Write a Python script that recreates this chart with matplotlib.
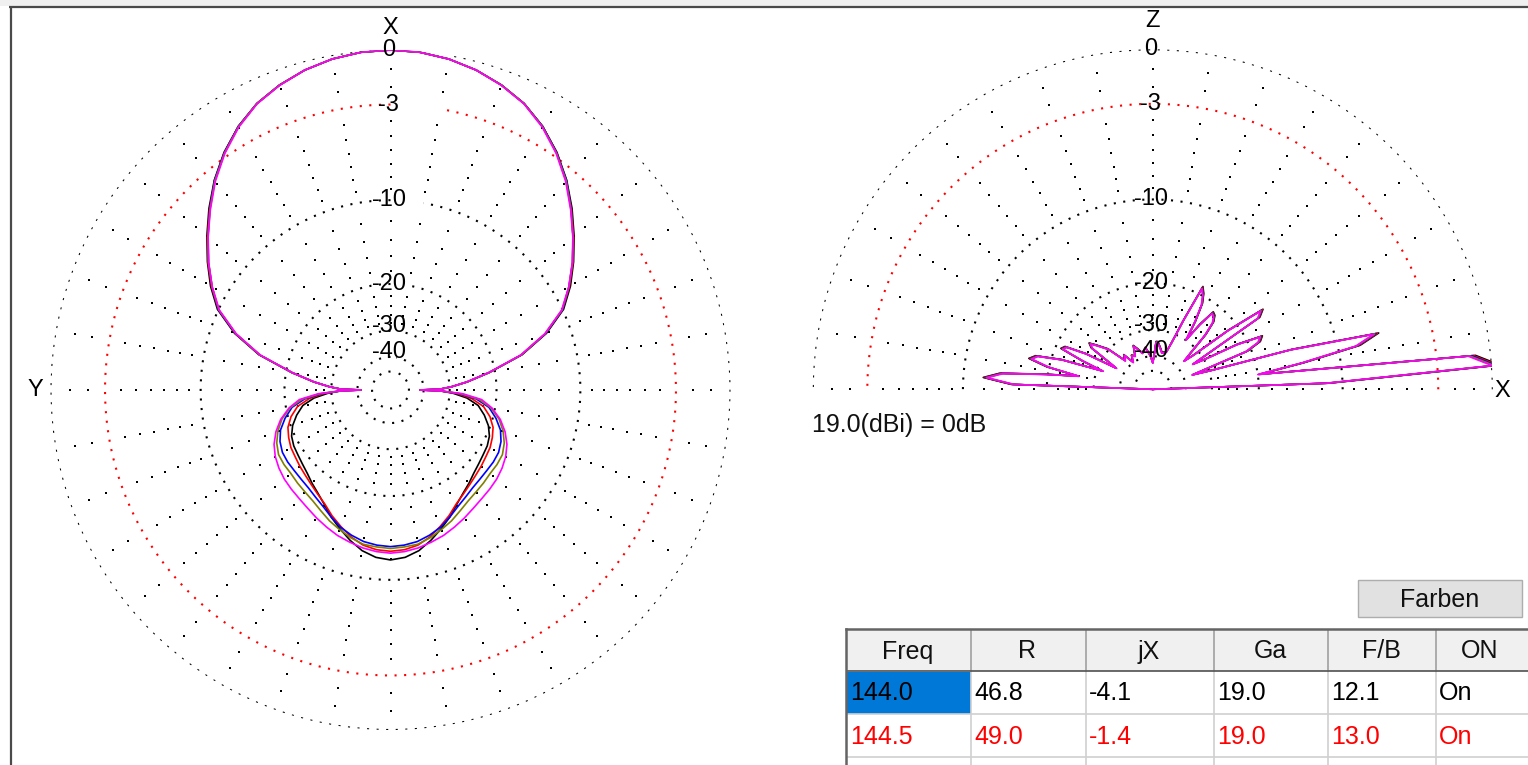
import numpy as np
import matplotlib
matplotlib.use("Agg")
import matplotlib.pyplot as plt
from matplotlib.patches import Rectangle

# ---------------- data ----------------
freqs = ['144.0', '144.5', '145.0', '145.5', '146.0']
colors = ['#000000', '#ff0000', '#0000ff', '#808000', '#ff00ff']

# azimuth pattern, front half (deg from X axis) -> dB
az_front_angles = [0, 5, 10, 15, 20, 25, 30, 35, 40, 45, 50, 55, 60, 65, 70, 75, 80, 84, 87, 89, 90]
az_front_db = {
    '144.0': [0, -0.05, -0.2, -0.45, -0.8, -1.25, -1.9, -2.72, -3.7, -4.82, -6.0, -7.2, -8.45, -9.9, -12.3, -15.7, -21.0, -25.5, -29.5, -33.0, -42.0],
    '144.5': [0, -0.05, -0.2, -0.45, -0.8, -1.25, -1.9, -2.75, -3.75, -4.88, -6.05, -7.25, -8.55, -10.0, -12.4, -15.8, -21.0, -25.5, -29.5, -33.0, -42.0],
    '145.0': [0, -0.05, -0.2, -0.45, -0.8, -1.25, -1.9, -2.75, -3.72, -4.9, -6.1, -7.3, -8.6, -10.0, -12.4, -15.8, -21.0, -25.5, -29.5, -33.0, -42.0],
    '145.5': [0, -0.05, -0.2, -0.45, -0.8, -1.25, -1.92, -2.77, -3.75, -4.92, -6.1, -7.3, -8.6, -10.05, -12.45, -15.8, -21.0, -25.5, -29.5, -33.0, -42.0],
    '146.0': [0, -0.05, -0.2, -0.45, -0.82, -1.27, -1.95, -2.8, -3.8, -4.95, -6.12, -7.32, -8.62, -10.1, -12.5, -15.9, -21.1, -25.6, -29.5, -33.0, -42.0],
}
# azimuth pattern, back half (deg off the rear direction) -> dB
az_back_angles = [0, 5, 10, 15, 20, 25, 30, 35, 40, 45, 50, 55, 60, 65, 70, 75, 80, 84, 87, 89]
az_back_db = {
    '144.0': [-11.9, -12.1, -12.6, -13.4, -14.3, -15.2, -16.2, -17.0, -17.6, -18.2, -18.6, -18.9, -19.1, -19.5, -20.3, -21.5, -23.0, -25.5, -29.0, -33.0],
    '144.5': [-12.8, -12.9, -13.2, -13.8, -14.6, -15.4, -16.3, -16.9, -17.4, -17.8, -18.1, -18.4, -18.6, -19.0, -19.5, -20.5, -22.0, -24.5, -28.0, -33.0],
    '145.0': [-13.3, -13.4, -13.6, -14.0, -14.5, -15.2, -15.9, -16.4, -16.8, -17.0, -17.1, -17.1, -17.2, -17.6, -18.3, -19.5, -21.0, -23.5, -27.5, -33.0],
    '145.5': [-13.1, -13.2, -13.3, -13.7, -14.2, -14.7, -15.3, -15.8, -16.1, -16.3, -16.5, -16.5, -16.6, -17.1, -17.9, -19.0, -20.7, -23.0, -27.0, -33.0],
    '146.0': [-12.6, -12.7, -12.9, -13.2, -13.5, -13.9, -14.3, -14.7, -15.0, -15.2, -15.4, -15.7, -16.1, -16.7, -17.6, -18.8, -20.5, -22.5, -26.5, -33.0],
}

# elevation pattern (deg above horizon, 0 = +X, 90 = Z) -> dB
el_angles = [0, 2, 4, 6, 8, 10, 12, 14, 16, 18, 20, 22, 24, 26, 28, 30, 32, 34, 36, 38,
             40, 42, 44, 46, 48, 50, 52, 54, 56, 58, 60, 62, 64, 66, 68, 70, 76, 80, 84,
             86, 88, 90, 94, 100, 106, 110, 114, 118, 122, 126, 130, 134, 138, 142, 144,
             146, 148, 150, 152, 154, 156, 158, 160, 162, 164, 166, 168, 170, 172, 174,
             176, 178, 180]
el_db = [-200, -11.6, 0.0, -1.2, -20.0, -14.0, -8.5, -6.9, -15.0, -30.0,
         -36.0, -21.0, -18.6, -18.0, -22.0, -30.0, -34.0, -17.0, -16.1, -22.0,
         -32.0, -36.0, -32.0, -26.0, -23.0, -22.0, -21.7, -25.0, -30.0, -25.0,
         -21.5, -20.0, -19.1, -26.0, -33.0, -37.0, -38.0, -36.0, -34.0,
         -34.0, -40.0, -44.0, -40.0, -36.0, -38.0, -36.0, -34.0, -38.0, -37.0,
         -40.0, -35.0, -37.0, -30.0, -27.0, -25.5,
         -26.5, -32.0, -36.0, -26.0, -21.8, -21.3, -26.0, -32.0, -22.0, -18.0,
         -17.2, -20.0, -26.0, -20.0, -14.0,
         -12.3, -15.4, -200]
el_offset = {'144.0': 0.4, '144.5': 0.3, '145.0': 0.2, '145.5': 0.1, '146.0': 0.0}

ring_db = [0, -3, -10, -20, -30, -40, -50]
ring_labels = ['0', '-3', '-10', '-20', '-30', '-40']
dot_db = [-1, -2, -4, -5, -6, -7, -8, -9, -12, -14, -16, -18, -22, -24, -26, -28]

gain_text = '19.0(dBi) = 0dB'
table_header = ['Freq', 'R', 'jX', 'Ga', 'F/B', 'ON']
table_rows = [
    ['144.0', '46.8', '-4.1', '19.0', '12.1', 'On'],
    ['144.5', '49.0', '-1.4', '19.0', '13.0', 'On'],
]
table_row_colors = ['#000000', '#ff0000']
button_text = 'Farben'

# ---------------- setup ----------------
W, H = 1528, 765
fig = plt.figure(figsize=(W / 100, H / 100), dpi=100)
fig.patch.set_facecolor('white')
SANS = 'Liberation Sans'
DB_MIN = -200.0


def db_to_r(d):
    return np.power(0.89, -np.asarray(d, dtype=float) / 2.0)


def r_to_db(r):
    r = np.maximum(np.asarray(r, dtype=float), 1e-300)
    return -2.0 * np.log(r) / np.log(0.89)


# overlay axes in pixel coords (window frame, table)
ov = fig.add_axes([0, 0, 1, 1])
ov.set_xlim(0, W)
ov.set_ylim(H, 0)
ov.axis('off')
ov.add_patch(Rectangle((0, 0), W, 6, facecolor='#f0f0f0', edgecolor='none'))
ov.plot([9, W], [7, 7], color='#4a4a4a', lw=1.6, solid_capstyle='butt')
ov.plot([10.5, 10.5], [7, H], color='#4a4a4a', lw=1.6, solid_capstyle='butt')

# button
ov.add_patch(Rectangle((1358, 580), 164, 37, facecolor='#e1e1e1', edgecolor='#adadad', lw=1))
ov.text(1440, 600, button_text, ha='center', va='center', fontsize=18, family=SANS, color='#111111')

# table
col_x = [847, 971, 1086, 1214, 1328, 1436, 1530]
row_y = [630, 671, 714, 757, 800]
ov.add_patch(Rectangle((col_x[0], row_y[0]), W - col_x[0], row_y[1] - row_y[0],
                       facecolor='#f0f0f0', edgecolor='none'))
ov.add_patch(Rectangle((col_x[0], row_y[1] + 1), col_x[1] - col_x[0], row_y[2] - row_y[1] - 1,
                       facecolor='#0078d7', edgecolor='none'))
for xx in col_x[1:-1]:
    ov.plot([xx, xx], [row_y[0], row_y[1]], color='#a0a0a0', lw=1.2)
    ov.plot([xx, xx], [row_y[1], H], color='#d0d0d0', lw=1.2)
for yy in row_y[2:4]:
    ov.plot([col_x[0], W], [yy, yy], color='#d0d0d0', lw=1.2)
ov.plot([col_x[0], W], [row_y[1], row_y[1]], color='#505050', lw=1.2)
ov.plot([col_x[0] - 1, W], [row_y[0] - 1, row_y[0] - 1], color='#646464', lw=1.8)
ov.plot([col_x[0] - 1, col_x[0] - 1], [row_y[0] - 1, H], color='#646464', lw=1.8)
for j, h in enumerate(table_header):
    ov.text((col_x[j] + col_x[j + 1] - (2 if j < 5 else 6)) / 2, (row_y[0] + row_y[1]) / 2 + 1, h,
            ha='center', va='center', fontsize=18, family=SANS, color='#111111')
for i, row in enumerate(table_rows):
    for j, val in enumerate(row):
        ov.text(col_x[j] + 3, (row_y[i + 1] + row_y[i + 2]) / 2 + 1, val, ha='left', va='center',
                fontsize=18, family=SANS, color=table_row_colors[i])


def make_polar(cx, cy, zero, R=340):
    ax = fig.add_axes([(cx - R) / W, (H - cy - R) / H, 2 * R / W, 2 * R / H], projection='polar')
    ax.set_theta_zero_location(zero)
    ax.set_theta_direction(1)
    ax.set_rscale('function', functions=(db_to_r, r_to_db))
    ax.axis('off')
    return ax


def draw_grid(ax, tmin, tmax, label_theta):
    th = np.linspace(np.deg2rad(tmin), np.deg2rad(tmax), 1441)
    for d in ring_db:
        col = '#ff0000' if d == -3 else '#000000'
        ax.plot(th, np.full_like(th, d), color=col, lw=1.5, ls=(0, (1, 3.6)), dash_capstyle='butt')
    spokes = np.deg2rad(np.arange(tmin, tmax + 1, 10))
    for s in spokes:
        ax.scatter(np.full(len(dot_db), s), dot_db, s=3.0, marker='s', color='#000000', linewidths=0)
    for d, lab in zip(ring_db, ring_labels):
        off = {'-30': 5, '-40': 5}.get(lab, 0)
        ax.annotate(lab, xy=(np.deg2rad(label_theta), d), xytext=(-2, off), textcoords='offset pixels',
                    ha='center', va='center', fontsize=17, family=SANS, color='#000000')


# -------- azimuth plot --------
axA = make_polar(390.5, 390, 'N')
draw_grid(axA, 0, 350, 0)
for f, c in zip(freqs, colors):
    half_t = list(az_front_angles) + [180 - p for p in az_back_angles[::-1]]
    half_d = list(az_front_db[f]) + list(az_back_db[f][::-1])
    full_t = half_t + [360 - t for t in half_t[-2::-1]]
    full_d = half_d + half_d[-2::-1]
    axA.plot(np.deg2rad(full_t), full_d, color=c, lw=1.2)
axA.set_rlim(DB_MIN, 0)
axA.annotate('X', xy=(0, 0), xytext=(0, 22), textcoords='offset pixels', ha='center', va='center',
             fontsize=17, family=SANS)
axA.annotate('Y', xy=(np.pi / 2, 0), xytext=(-15, 0), textcoords='offset pixels', ha='center',
             va='center', fontsize=17, family=SANS)

# -------- elevation plot --------
axE = make_polar(1152.8, 389.3, 'E')
draw_grid(axE, 0, 180, 90)
for f, c in zip(freqs, colors):
    d = [v + el_offset[f] if v > DB_MIN else v for v in el_db]
    axE.plot(np.deg2rad(el_angles), d, color=c, lw=1.2)
axE.set_rlim(DB_MIN, 0)
axE.annotate('Z', xy=(np.pi / 2, 0), xytext=(0, 28), textcoords='offset pixels', ha='center',
             va='center', fontsize=17, family=SANS)
axE.annotate('X', xy=(0, 0), xytext=(10, -2), textcoords='offset pixels', ha='center', va='center',
             fontsize=17, family=SANS)
ov.text(812, 425, gain_text, ha='left', va='center', fontsize=18, family=SANS, color='#111111')

fig.savefig('out.png', dpi=100)
